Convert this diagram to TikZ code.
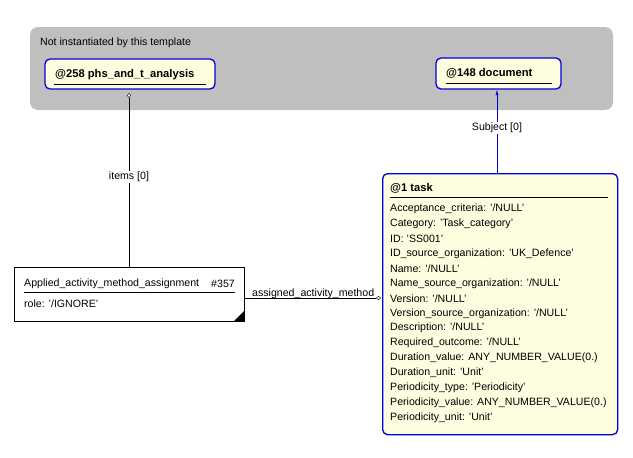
\documentclass[tikz,border=0pt]{standalone}
\usepackage{fontspec}
\setmainfont{Liberation Sans}
\usetikzlibrary{arrows.meta}
\begin{document}
\begin{tikzpicture}[x=1pt,y=-1pt,font=\fontsize{10.6}{12}\selectfont,
 ent/.style={draw=blue!85!black,line width=1.3pt,fill=yellow!12,rounded corners=5pt},
 lbl/.style={fill=white,inner sep=1pt},
 dia/.style={{Diamond[open,fill=white,length=5pt,width=4pt]}-}]
\useasboundingbox (0,0) rectangle (633,458);
\fill[gray!50,rounded corners=8pt] (30,27) rectangle (613,110);
\node[anchor=west,inner sep=1pt] (nt) at (39,43) {Not instantiated by this template};
\node[ent,minimum width=170pt,minimum height=30pt] (phs) at (130,74) {};
\node[anchor=west,inner sep=1pt,font=\fontsize{11.2}{12}\selectfont\bfseries] (phst) at (54,75) {@258 phs\_and\_t\_analysis};
\draw (54,84) -- (206,84);
\node[ent,minimum width=125pt,minimum height=31pt] (doc) at (498.5,73.5) {};
\node[anchor=west,inner sep=1pt,font=\fontsize{11.2}{12}\selectfont\bfseries] (doct) at (445,73) {@148 document};
\draw (446,83) -- (552,83);
\node[ent,minimum width=235pt,minimum height=261pt,anchor=north west] (task) at (382,173) {};
\node[anchor=west,inner sep=1pt,font=\fontsize{11.2}{12}\selectfont\bfseries] (taskt) at (389,188) {@1 task};
\draw (390,197) -- (608,197);
\foreach \t [count=\i] in {Acceptance\_criteria: '/NULL',Category: 'Task\_category',ID: 'SS001',ID\_source\_organization: 'UK\_Defence',Name: '/NULL',Name\_source\_organization: '/NULL',Version: '/NULL',Version\_source\_organization: '/NULL',Description: '/NULL',Required\_outcome: '/NULL',Duration\_value: ANY\_NUMBER\_VALUE(0.),Duration\_unit: 'Unit',Periodicity\_type: 'Periodicity',Periodicity\_value: ANY\_NUMBER\_VALUE(0.),Periodicity\_unit: 'Unit'}
  \node[anchor=west,inner sep=1pt] (a\i) at (389,{209+(\i-1)*14.9}) {\t};
\node[draw,fill=white,minimum width=230pt,minimum height=54pt,anchor=north west] (app) at (14,267) {};
\node[anchor=west,inner sep=1pt] (appt) at (23,284) {Applied\_activity\_method\_assignment};
\node[anchor=east,inner sep=1pt] (appn) at (236,284) {\#357};
\draw (24,292) -- (235,292);
\node[anchor=west,inner sep=1pt] (role) at (23,304) {role: '/IGNORE'};
\fill (244,311) -- (244,321) -- (234,321) -- cycle;
\draw[dia] (129,93) -- (129,267);
\node[lbl] at (129,177) {items [0]};
\draw[draw=blue!85!black,-{Latex[length=5pt,width=3pt]}] (497,173) -- (497,90);
\node[lbl] at (497,128) {Subject [0]};
\draw[{Diamond[open,fill=white,length=5pt,width=4pt]}-] (381,298) -- (244,298);
\node[anchor=south west,inner sep=1pt] at (251,300) {assigned\_activity\_method};
\end{tikzpicture}
\end{document}
